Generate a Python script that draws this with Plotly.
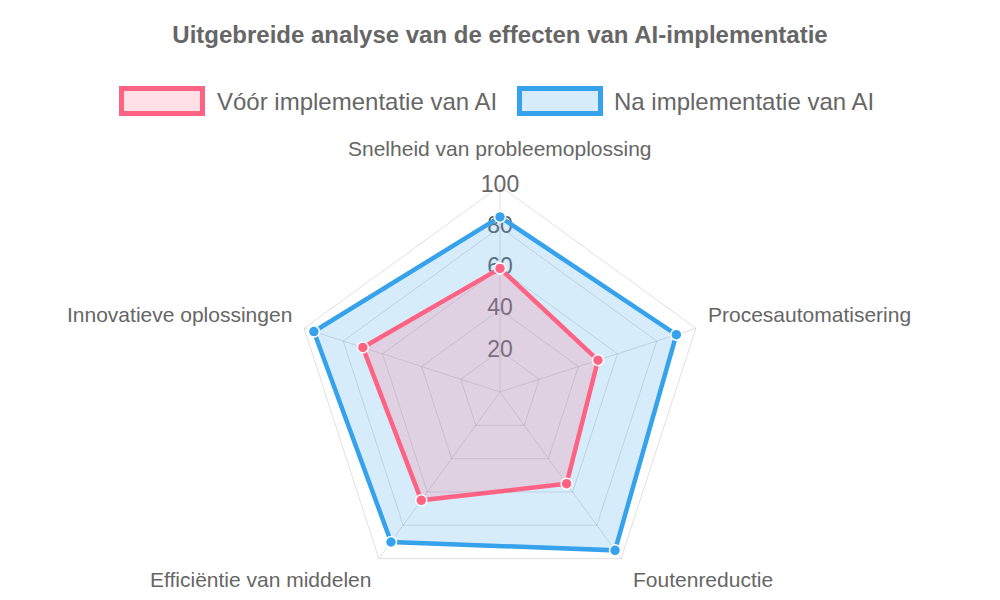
import plotly.graph_objects as go

# Categories and values
categories = [
    "Snelheid van probleemoplossing",
    "Procesautomatisering",
    "Foutenreductie",
    "Efficiëntie van middelen",
    "Innovatieve oplossingen",
]
before_ai = [60, 50, 55, 65, 70]
after_ai = [85, 90, 95, 90, 95]
radial_ticks = [20, 40, 60, 80, 100]

GRID = "rgba(0,0,0,0.12)"
TEXT = "#666666"
PINK = "rgb(255, 99, 132)"
BLUE = "rgb(54, 162, 235)"
PINK_FILL = "rgba(255, 99, 132, 0.2)"
BLUE_FILL = "rgba(54, 162, 235, 0.2)"

W, H = 1000, 600


def px_x(x):
    return x / W


def px_y(y):
    # pixel from top -> paper fraction from bottom
    return 1 - y / H


def closed(vals):
    # repeat the first point so the polygon closes
    return list(vals) + [vals[0]]


fig = go.Figure()

# Radial tick labels centered on the first spoke (drawn first so data sits on top)
fig.add_trace(go.Scatterpolar(
    r=radial_ticks,
    theta=[categories[0]] * len(radial_ticks),
    mode="text",
    text=[str(v) for v in radial_ticks],
    textfont=dict(size=23, color=TEXT),
    showlegend=False,
    hoverinfo="skip",
))

# Blue first so the pink dataset ends up on top (like the reference)
datasets = [
    ("Na implementatie van AI", after_ai, BLUE, BLUE_FILL),
    ("Vóór implementatie van AI", before_ai, PINK, PINK_FILL),
]
for name, vals, color, fill in datasets:
    fig.add_trace(go.Scatterpolar(
        r=closed(vals),
        theta=closed(categories),
        name=name,
        mode="lines+markers",
        fill="toself",
        fillcolor=fill,
        line=dict(color=color, width=4.5),
        marker=dict(size=11, color=color, line=dict(color="white", width=1.5)),
        showlegend=False,
    ))

# Legend drawn as boxes + labels (Chart.js style)
legend_items = [
    ("Vóór implementatie van AI", PINK, PINK_FILL, 121.5, 215),
    ("Na implementatie van AI", BLUE, BLUE_FILL, 519.5, 612),
]
for label, color, fill, box_x, text_x in legend_items:
    fig.add_shape(
        type="rect", xref="paper", yref="paper",
        x0=px_x(box_x), x1=px_x(box_x + 81), y0=px_y(113.5), y1=px_y(88.5),
        line=dict(color=color, width=5), fillcolor=fill,
    )
    fig.add_annotation(
        x=px_x(text_x), y=px_y(101), xref="paper", yref="paper",
        xanchor="left", yanchor="middle", showarrow=False,
        text=label, font=dict(size=24, color=TEXT),
    )

# Category (point) labels around the radar
label_pos = [
    (500, 148, "center"),
    (706, 314, "left"),
    (631, 579, "left"),
    (373, 579, "right"),
    (294, 314, "right"),
]
for cat, (x, y, anchor) in zip(categories, label_pos):
    fig.add_annotation(
        x=px_x(x), y=px_y(y), xref="paper", yref="paper",
        xanchor=anchor, yanchor="middle", showarrow=False,
        text=cat, font=dict(size=21, color=TEXT),
    )

fig.update_layout(
    width=W,
    height=H,
    showlegend=False,
    font=dict(family="Liberation Sans, Arial, sans-serif", color=TEXT),
    title=dict(
        text="<b>Uitgebreide analyse van de effecten van AI-implementatie</b>",
        font=dict(size=24, color=TEXT),
        x=0.5,
        xanchor="center",
        y=0.942,
        yanchor="middle",
    ),
    polar=dict(
        domain=dict(x=[0.294, 0.706], y=[0.0033, 0.69]),
        gridshape="linear",
        bgcolor="white",
        radialaxis=dict(
            range=[0, 100],
            tickvals=radial_ticks,
            showticklabels=False,
            ticks="",
            showline=False,
            gridcolor=GRID,
        ),
        angularaxis=dict(
            direction="clockwise",
            rotation=90,
            categoryorder="array",
            categoryarray=categories,
            showticklabels=False,
            ticks="",
            gridcolor=GRID,
            showline=True,
            linecolor=GRID,
        ),
    ),
    paper_bgcolor="white",
    margin=dict(l=0, r=0, t=0, b=0),
)

# the page body has a default 8px margin; drop it so the 1000x600 figure fills the window
fig.write_html(
    "out.html",
    config={"displayModeBar": False},
    post_script="document.body.style.margin = '0';",
)
